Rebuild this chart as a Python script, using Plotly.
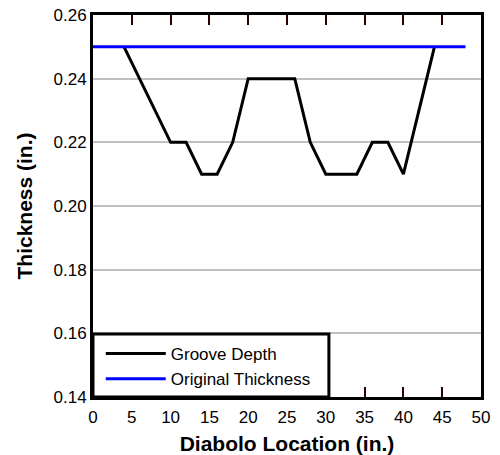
import plotly.graph_objects as go

location = [4, 10, 12, 14, 16, 18, 20, 26, 28, 30, 34, 36, 38, 40, 44]
groove_depth = [0.25, 0.22, 0.22, 0.21, 0.21, 0.22, 0.24, 0.24, 0.22, 0.21, 0.21, 0.22, 0.22, 0.21, 0.25]
orig_location = [0, 48]
orig_thickness = [0.25, 0.25]
x_ticks = [0, 5, 10, 15, 20, 25, 30, 35, 40, 45, 50]
y_ticks = [0.14, 0.16, 0.18, 0.20, 0.22, 0.24, 0.26]

font = "Liberation Sans, Arial, sans-serif"

fig = go.Figure()
fig.add_trace(go.Scatter(x=location, y=groove_depth, mode="lines",
                         name="Groove Depth", line=dict(color="black", width=3)))
fig.add_trace(go.Scatter(x=orig_location, y=orig_thickness, mode="lines",
                         name="Original Thickness", line=dict(color="#0000ff", width=3)))

fig.update_layout(
    width=500, height=455,
    margin=dict(l=93, r=19, t=15, b=58, autoexpand=False),
    paper_bgcolor="white", plot_bgcolor="white",
    font=dict(family=font, size=17, color="black"),
    showlegend=True,
    legend=dict(x=0.02, y=0.0, xanchor="left", yanchor="bottom",
                bgcolor="rgba(0,0,0,0)", borderwidth=0,
                font=dict(family=font, size=17, color="black"),
                itemwidth=60, tracegroupgap=0),
    xaxis=dict(range=[0, 50], tickmode="array", tickvals=x_ticks,
               ticktext=[str(v) for v in x_ticks], automargin=False,
               ticks="inside", ticklen=10, tickwidth=2, tickcolor="#2a0000",
               showline=True, linewidth=3, linecolor="black", mirror="allticks",
               showgrid=False, zeroline=False, ticklabelstandoff=3,
               title=dict(text="<b>Diabolo Location (in.)</b>", font=dict(size=21), standoff=13)),
    yaxis=dict(range=[0.14, 0.26], tickmode="array", tickvals=y_ticks,
               ticktext=[f"{v:.2f}" for v in y_ticks], automargin=False,
               ticks="", showline=True, linewidth=3, linecolor="black", mirror=True,
               showgrid=True, gridcolor="#c0c0c0", gridwidth=2, zeroline=False,
               title=dict(text="<b>Thickness (in.)</b>", font=dict(size=21), standoff=16)),
    shapes=[dict(type="rect", xref="paper", yref="paper", x0=0, x1=0.608, y0=0, y1=0.165,
                 line=dict(color="black", width=3), fillcolor="white", layer="above")],
)

fig.write_html("out.html")
